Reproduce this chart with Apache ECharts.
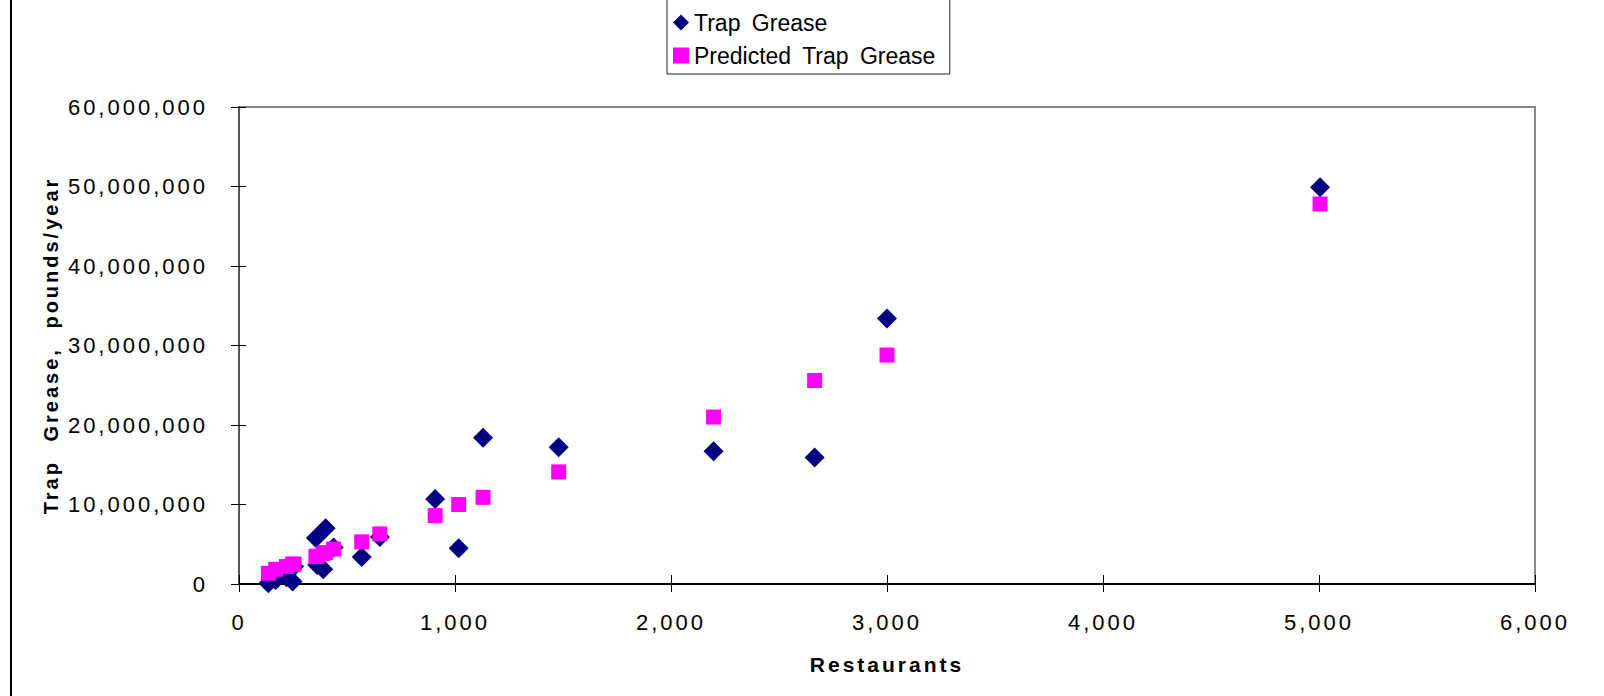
<!DOCTYPE html>
<html>
<head>
<meta charset="utf-8">
<script src="https://cdn.jsdelivr.net/npm/echarts@6/dist/echarts.min.js"></script>
<style>
  html, body { margin: 0; padding: 0; background: #fff; }
  #chart { width: 1604px; height: 696px; }
  #chart text { letter-spacing: 3px; }
  #chart text[style*="20px"], #chart text[font-size="20px"], #chart text[font-size="20"] { word-spacing: 10px; }
  #chart text[style*="23px"], #chart text[font-size="23px"], #chart text[font-size="23"] { letter-spacing: 0; word-spacing: 5px; }
  #frame { position: absolute; left: 10px; top: 0; width: 2px; height: 696px; background: #000; }
</style>
</head>
<body>
<div id="chart"></div>
<div id="frame"></div>
<script>
// Restaurants (x) shared by both series
const restaurants = [136, 170, 220, 248, 255, 356, 362, 390, 401, 438, 568, 652, 908, 1017, 1130, 1480, 2197, 2665, 3000, 5005];
// Trap grease, pounds/year
const trapGrease = [100000, 500000, 850000, 300000, 2200000, 5800000, 2400000, 1850000, 7000000, 4600000, 3400000, 5900000, 10700000, 4500000, 18400000, 17200000, 16700000, 15900000, 33400000, 49900000];
// Predicted trap grease, pounds/year
const predictedTrapGrease = [1350000, 1850000, 2200000, 2500000, 2500000, 3450000, 3500000, 3850000, 3950000, 4400000, 5300000, 6300000, 8600000, 10000000, 10900000, 14100000, 21000000, 25600000, 28800000, 47800000];

const seriesNames = ['Trap Grease', 'Predicted Trap Grease'];
const xAxisName = 'Restaurants';
const yAxisName = 'Trap Grease, pounds/year';

const pairs = (xs, ys) => xs.map((x, i) => [x, ys[i]]);
const fmt = v => Number(v).toLocaleString('en-US');
const FONT = 'Liberation Sans, Arial, sans-serif';

const chart = echarts.init(document.getElementById('chart'), null, { renderer: 'svg' });

const xBase = {
  type: 'value', min: 0, max: 6000, interval: 1000,
  splitLine: { show: false }
};
const yBase = {
  type: 'value', min: 0, max: 60000000, interval: 10000000,
  splitLine: { show: false }
};

chart.setOption({
  backgroundColor: '#ffffff',
  animation: false,
  grid: {
    left: 239, right: 69, top: 107, bottom: 112,
    show: true, borderColor: '#888888', borderWidth: 2, backgroundColor: 'transparent'
  },
  legend: {
    orient: 'vertical',
    left: 667, top: -6,
    padding: [17, 24, 7, 6],
    itemGap: 10,
    itemWidth: 16, itemHeight: 16,
    itemTextGap: 5,
    borderColor: '#222', borderWidth: 1,
    backgroundColor: '#fff',
    textStyle: { fontFamily: FONT, fontSize: 23, color: '#000' },
    data: [
      { name: seriesNames[0], icon: 'diamond' },
      { name: seriesNames[1], icon: 'rect' }
    ]
  },
  xAxis: [
    Object.assign({}, xBase, {
      position: 'bottom',
      name: xAxisName, nameLocation: 'middle', nameGap: 70,
      nameTextStyle: { fontFamily: FONT, fontSize: 21, fontWeight: 'bold', color: '#000' },
      axisLine: { show: true, lineStyle: { color: '#000', width: 2 } },
      axisTick: { show: true, inside: false, length: 8, lineStyle: { color: '#000', width: 1 } },
      axisLabel: { show: true, margin: 27, fontFamily: FONT, fontSize: 22, color: '#000', formatter: fmt }
    }),
    Object.assign({}, xBase, {
      position: 'bottom',
      axisLine: { show: false },
      axisTick: { show: true, inside: true, length: 9, lineStyle: { color: '#000', width: 1 } },
      axisLabel: { show: false }
    })
  ],
  yAxis: [
    Object.assign({}, yBase, {
      position: 'left',
      name: yAxisName, nameLocation: 'middle', nameGap: 178,
      nameTextStyle: { fontFamily: FONT, fontSize: 20, fontWeight: 'bold', color: '#000' },
      axisLine: { show: true, lineStyle: { color: '#555', width: 2 } },
      axisTick: { show: true, inside: false, length: 8, lineStyle: { color: '#000', width: 1 } },
      axisLabel: { show: true, margin: 31, fontFamily: FONT, fontSize: 22, color: '#000', formatter: fmt }
    }),
    Object.assign({}, yBase, {
      position: 'left', offset: 0,
      axisLine: { show: false },
      axisTick: { show: true, inside: true, length: 7, lineStyle: { color: '#000', width: 1 } },
      axisLabel: { show: false }
    })
  ],
  series: [
    {
      name: seriesNames[0], type: 'scatter', xAxisIndex: 0, yAxisIndex: 0,
      symbol: 'diamond', symbolSize: 20,
      itemStyle: { color: '#000080', opacity: 1 },
      data: pairs(restaurants, trapGrease), z: 2
    },
    {
      name: seriesNames[1], type: 'scatter', xAxisIndex: 0, yAxisIndex: 0,
      symbol: 'rect', symbolSize: 15,
      itemStyle: { color: '#ff00ff', opacity: 1 },
      data: pairs(restaurants, predictedTrapGrease), z: 3
    }
  ]
});
</script>
</body>
</html>
